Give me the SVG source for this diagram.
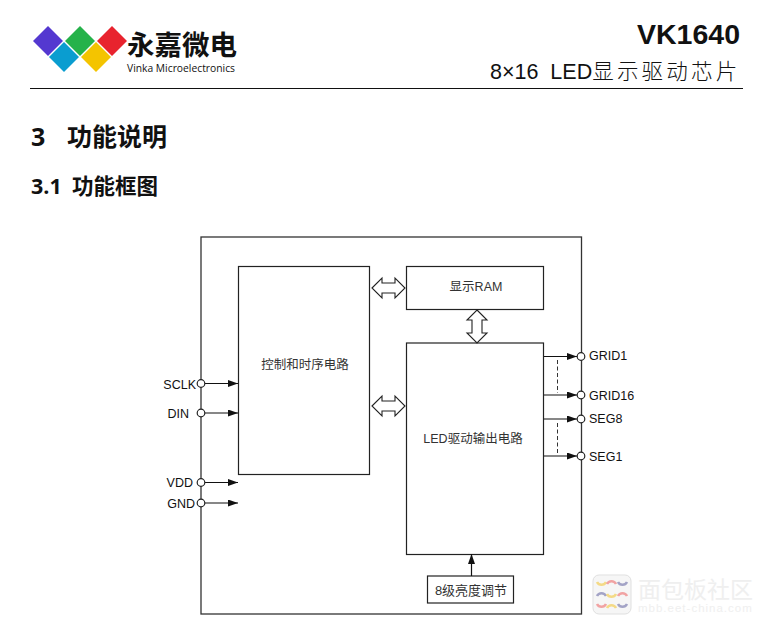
<svg xmlns="http://www.w3.org/2000/svg" width="770" height="626" viewBox="0 0 770 626">
<style>
text{font-family:"Liberation Sans","Noto Sans CJK SC",sans-serif;fill:#111}
.box{fill:#fff;stroke:#222;stroke-width:1.2}
.pin{font-size:12.5px}
.lbl{font-size:12.5px;fill:#333}
.h{font-family:"Open Sans","Noto Sans CJK SC",sans-serif;font-weight:700}
.w{stroke:#111;stroke-width:1.2;fill:none}
.dot{fill:#fff;stroke:#222;stroke-width:1.2}
.dbl{fill:#fff;stroke:#222;stroke-width:1.1}
.dash{stroke:#333;stroke-width:1;stroke-dasharray:4 2.5;fill:none}
</style>
<defs>
<marker id="a" markerWidth="11" markerHeight="8" refX="10" refY="3.5" orient="auto" markerUnits="userSpaceOnUse"><path d="M0 0L10 3.5L0 7z" fill="#111"/></marker>
</defs>
<rect width="770" height="626" fill="#fff"/>
<g id="logo">
<polygon points="48,26 63,41 48,56 33,41" fill="#5438d0"/>
<polygon points="64,42 79,57 64,72 49,57" fill="#0a9dd0"/>
<polygon points="80,26 95,41 80,56 65,41" fill="#25b24a"/>
<polygon points="96,42 111,57 96,72 81,57" fill="#f4c400"/>
<polygon points="112,26 127,41 112,56 97,41" fill="#e8232e"/>
<text x="127" y="55" font-size="27.5" font-weight="700" style="fill:#111">永嘉微电</text>
<text x="127" y="72" font-size="10.3" style="font-family:'Open Sans',sans-serif">Vinka Microelectronics</text>
</g>
<g id="header">
<text x="740" y="44" font-size="28.5" font-weight="700" text-anchor="end">VK1640</text>
<text x="490" y="79" font-size="21.5" xml:space="preserve">8×16  LED<tspan font-weight="300" letter-spacing="3.2">显示驱动芯片</tspan></text>
<line x1="30" y1="88.500" x2="743" y2="88.500" stroke="#111" stroke-width="1"/>
</g>
<g id="headings">
<text class="h" x="31" y="146" font-size="25">3</text>
<text class="h" x="67" y="146" font-size="25">功能说明</text>
<text class="h" x="31" y="194" font-size="21.5">3.1</text>
<text class="h" x="72" y="194" font-size="21.5">功能框图</text>
</g>
<g id="chip"><rect x="201" y="237" width="380.500" height="377" fill="none" stroke="#333" stroke-width="1.300"/></g>
<g id="control"><rect class="box" x="238.500" y="266.500" width="131" height="208"/><text class="lbl" x="305" y="369" text-anchor="middle">控制和时序电路</text></g>
<g id="ram"><rect class="box" x="406.500" y="266.500" width="137" height="43"/><text class="lbl" x="476" y="291" text-anchor="middle">显示RAM</text></g>
<g id="led"><rect class="box" x="406.500" y="343" width="137" height="211.500"/><text class="lbl" x="473" y="443" text-anchor="middle">LED驱动输出电路</text></g>
<g id="brightness"><rect class="box" x="427.500" y="576" width="86" height="27"/><text class="lbl" x="471" y="595" text-anchor="middle" style="font-size:13px">8级亮度调节</text></g>
<g id="connectors">
<line class="w" x1="205" y1="383.500" x2="238" y2="383.500" marker-end="url(#a)"/>
<line class="w" x1="205" y1="413" x2="238" y2="413" marker-end="url(#a)"/>
<line class="w" x1="205" y1="482.500" x2="238" y2="482.500" marker-end="url(#a)"/>
<line class="w" x1="205" y1="503" x2="238" y2="503" marker-end="url(#a)"/>
<line class="w" x1="544" y1="356.500" x2="577" y2="356.500" marker-end="url(#a)"/>
<line class="w" x1="544" y1="395" x2="577" y2="395" marker-end="url(#a)"/>
<line class="w" x1="544" y1="419" x2="577" y2="419" marker-end="url(#a)"/>
<line class="w" x1="544" y1="456" x2="577" y2="456" marker-end="url(#a)"/>
<line class="w" x1="471.500" y1="576" x2="471.500" y2="554" marker-end="url(#a)"/>
<line class="dash" x1="557.500" y1="360" x2="557.500" y2="393"/>
<line class="dash" x1="557.500" y1="423" x2="557.500" y2="455"/>
<polygon class="dbl" points="372,288 382,278 382,283 395,283 395,278 405,288 395,298 395,293 382,293 382,298"/>
<polygon class="dbl" points="372,406 382,396 382,401 395,401 395,396 405,406 395,416 395,411 382,411 382,416"/>
<polygon class="dbl" points="477,310 487,320 482,320 482,333 487,333 477,343 467,333 472,333 472,320 467,320"/>
</g>
<g id="pins">
<circle class="dot" cx="201" cy="383.500" r="3.800"/><text class="pin" x="196" y="389" text-anchor="end">SCLK</text>
<circle class="dot" cx="201" cy="413" r="3.800"/><text class="pin" x="189" y="418" text-anchor="end">DIN</text>
<circle class="dot" cx="201" cy="482.500" r="3.800"/><text class="pin" x="193" y="487" text-anchor="end">VDD</text>
<circle class="dot" cx="201" cy="503" r="3.800"/><text class="pin" x="195" y="508" text-anchor="end">GND</text>
<circle class="dot" cx="581" cy="356.500" r="3.800"/><text class="pin" x="589" y="360">GRID1</text>
<circle class="dot" cx="581" cy="395" r="3.800"/><text class="pin" x="589" y="400">GRID16</text>
<circle class="dot" cx="581" cy="419" r="3.800"/><text class="pin" x="589" y="423">SEG8</text>
<circle class="dot" cx="581" cy="456" r="3.800"/><text class="pin" x="589" y="461">SEG1</text>
</g>
<g id="watermark" opacity=".9">
<rect x="593" y="575" width="38" height="39" rx="6" fill="#f6f6f6" stroke="#ddd"/>
<g fill="none" stroke-width="2.500">
<path d="M597 582a5 5 0 0 0 9 0" stroke="#f3d67a"/><path d="M607 584a5 5 0 0 1 9 0" stroke="#f09a9a"/><path d="M618 582a5 5 0 0 0 9 0" stroke="#9a9ac0"/>
<path d="M597 596a5 5 0 0 1 9 0" stroke="#9a9ac0"/><path d="M607 594a5 5 0 0 0 9 0" stroke="#f3d67a"/><path d="M618 596a5 5 0 0 1 9 0" stroke="#f09a9a"/>
<path d="M597 604a5 5 0 0 0 9 0" stroke="#f09a9a"/><path d="M607 608a5 5 0 0 1 9 0" stroke="#f3d67a"/><path d="M618 604a5 5 0 0 0 9 0" stroke="#9a9ac0"/>
</g>
<text x="638" y="598" font-size="23" style="fill:#eeeeee">面包板社区</text>
<text x="638" y="612" font-size="11.5" letter-spacing="1" style="fill:#eeeeee">mbb.eet-china.com</text>
</g>
</svg>
